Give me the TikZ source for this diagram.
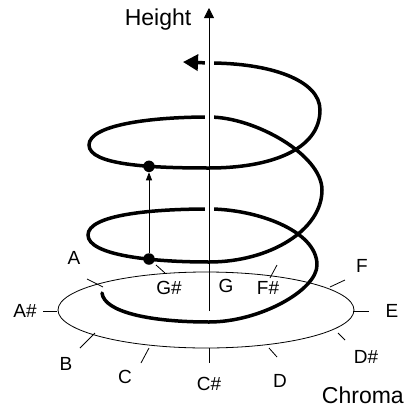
\documentclass[tikz,border=0pt]{standalone}
\usepackage{fontspec}
\setmainfont{Liberation Sans}
\usetikzlibrary{arrows.meta}

\begin{document}
\begin{tikzpicture}[x=1pt,y=-1pt,
    helix/.style={line width=3.5pt, line cap=round, line join=round},
    thin line/.style={line width=0.8pt},
    note/.style={font=\fontsize{19}{21}\selectfont, inner sep=0pt},
    title/.style={font=\fontsize{23}{28}\selectfont, inner sep=0pt, anchor=base},
    dot/.style={circle, fill, inner sep=0pt, minimum size=11.5pt}]
  \useasboundingbox (0,0) rectangle (408,408);

  % points of the spiral
  \coordinate (s0) at (102,293);
  \coordinate (s1) at (209,322);
  \coordinate (s2) at (317,265);
  \coordinate (s3) at (209,209);
  \coordinate (s4) at (88,235);
  \coordinate (s5) at (209,262);
  \coordinate (s6) at (322,190);
  \coordinate (s7) at (209,117);
  \coordinate (s8) at (89,145);
  \coordinate (s9) at (209,168);
  \coordinate (s10) at (320,110);
  \coordinate (s11) at (209,63);
  \coordinate (tip) at (183,62);
  \coordinate (base) at (209,311);
  \coordinate (top) at (209,8);

  % back parts of the spiral
  \draw[helix] (s0) .. controls (104,312) and (150,322) .. (s1)
    .. controls (260,322) and (317,290) .. (s2)
    .. controls (317,230) and (255,209) .. (s3)
    .. controls (150,209) and (88,215) .. (s4);
  \draw[helix] (s6) .. controls (322,155) and (255,117) .. (s7)
    .. controls (150,117) and (89,125) .. (s8);
  \draw[helix, -{Triangle[length=15pt,width=16pt]}] (s10)
    .. controls (320,80) and (270,63) .. (s11) -- (tip);

  % height axis
  \draw[white, line width=9pt] (base) -- (209,30);
  \draw[thin line, -{Triangle[length=10pt,width=10pt]}] (base) -- (top);
  \node[title] (height) at (158,25) {Height};

  % chroma circle
  \draw[thin line] (206,310) ellipse [x radius=148, y radius=38];
  \foreach \p/\q/\l/\t [count=\i] in {
      {209,348}/{209,363}/{209,384}/C\#,
      {269,348}/{277,357}/{280,381}/D,
      {338,333}/{345,340}/{366,357}/D\#,
      {353,311}/{369,311}/{392,311}/E,
      {330,287}/{345,280}/{362,266}/F,
      {270,278}/{277,265}/{268,288}/F\#,
      {165,273}/{156,265}/{169,288}/G\#,
      {103,287}/{87,279}/{74,258}/A,
      {57,311}/{43,311}/{25,311}/A\#,
      {95,333}/{80,348}/{66,364}/B,
      {149,348}/{141,363}/{125,377}/C} {
    \draw[thin line] (\p) -- (\q);
    \node[note] (n\i) at (\l) {\t};
  }
  \node[note] (ng) at (226,286) {G};
  \node[title, anchor=base east] (chroma) at (404,403) {Chroma};

  % front parts of the spiral
  \draw[helix] (s4) .. controls (88,255) and (150,262) .. (s5)
    .. controls (270,262) and (322,230) .. (s6);
  \draw[helix] (s8) .. controls (89,165) and (150,168) .. (s9)
    .. controls (270,168) and (320,150) .. (s10);

  % octave step
  \node[dot] (low) at (149,259) {};
  \node[dot] (high) at (149,166.3) {};
  \draw[thin line, -{Triangle[length=8pt,width=6pt]}] (low) -- (high);
\end{tikzpicture}
\end{document}
